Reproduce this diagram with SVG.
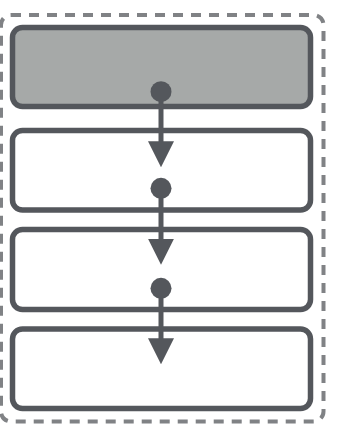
<svg xmlns="http://www.w3.org/2000/svg" width="359" height="426" viewBox="0 0 359 426">
  <style>
    .frame { fill: none; stroke: #808285; stroke-width: 4; stroke-dasharray: 10 8; }
    .node { fill: #ffffff; stroke: #54575c; stroke-width: 5.5; }
    .node.head { fill: #a6a9a8; }
    .edge { stroke: #54575c; stroke-width: 5; fill: none; }
  </style>
  <defs>
    <marker id="arrow" markerUnits="userSpaceOnUse" markerWidth="26" markerHeight="26" viewBox="0 0 25 25" refX="5" refY="12.5" orient="auto">
      <path d="M0,0 L25,12.5 L0,25 Z" fill="#54575c"/>
    </marker>
    <marker id="dot" markerUnits="userSpaceOnUse" markerWidth="22" markerHeight="22" viewBox="-11 -11 22 22" refX="0" refY="0" orient="auto">
      <circle cx="0" cy="0" r="10.5" fill="#54575c"/>
    </marker>
  </defs>
  <rect class="frame" x="1" y="15" width="322.5" height="406.5" rx="10" ry="10"/>
  <g id="node1"><rect class="node head" x="12.5" y="27.5" width="298" height="79" rx="10" ry="10"/></g>
  <g id="node2"><rect class="node" x="12.5" y="130.5" width="298" height="79.5" rx="10" ry="10"/></g>
  <g id="node3"><rect class="node" x="12.5" y="229.5" width="298" height="80" rx="10" ry="10"/></g>
  <g id="node4"><rect class="node" x="12.5" y="329" width="298" height="79.5" rx="10" ry="10"/></g>
  <g id="connectors">
    <line class="edge" x1="161" y1="91.7" x2="161" y2="146.5" marker-start="url(#dot)" marker-end="url(#arrow)"/>
    <line class="edge" x1="161" y1="188.3" x2="161" y2="244" marker-start="url(#dot)" marker-end="url(#arrow)"/>
    <line class="edge" x1="161" y1="288.3" x2="161" y2="343.5" marker-start="url(#dot)" marker-end="url(#arrow)"/>
  </g>
</svg>
